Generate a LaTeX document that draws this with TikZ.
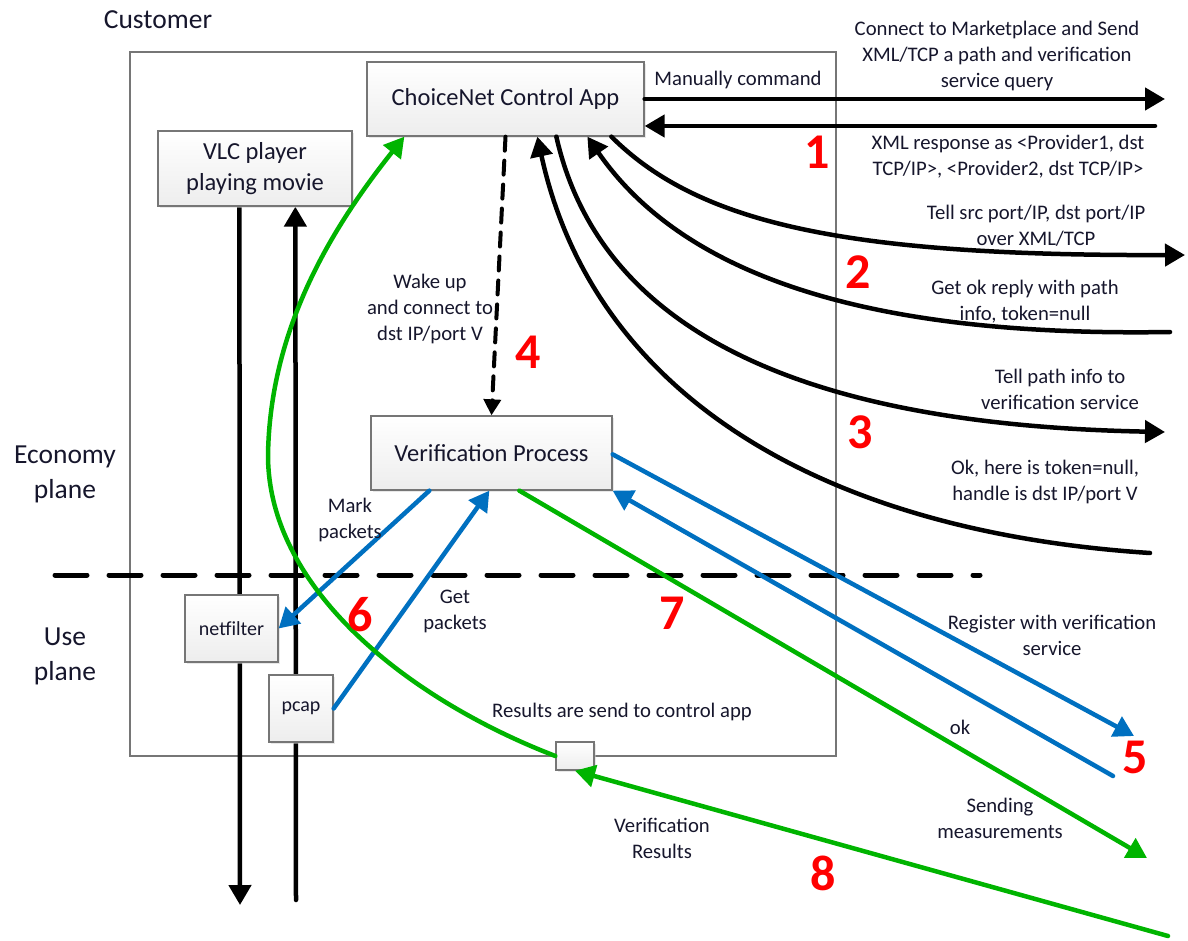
\documentclass[tikz,border=0pt]{standalone}
\usepackage{fontspec}
\setmainfont{Carlito}
\usetikzlibrary{arrows.meta,shadows,calc}
\definecolor{txt}{RGB}{22,22,44}
\definecolor{bblue}{RGB}{0,112,192}
\definecolor{ggreen}{RGB}{0,180,0}
\definecolor{frame}{RGB}{118,118,118}
\pgfdeclarelayer{back}
\pgfsetlayers{back,main}
\begin{document}
\begin{tikzpicture}[x=1pt,y=-1pt,
  box/.style={draw=frame, line width=1.3pt, top color=white, bottom color=gray!14,
    drop shadow={shadow xshift=2pt,shadow yshift=-2pt,fill=gray!35},
    inner sep=0pt, text=txt, font=\fontsize{24.5}{31}\selectfont, align=center},
  smallbox/.style={box, font=\fontsize{20}{24}\selectfont},
  lbl/.style={text=txt, font=\fontsize{20.7}{26}\selectfont, align=center, inner sep=0pt},
  side/.style={text=txt, font=\fontsize{27.5}{35}\selectfont, align=center, inner sep=0pt},
  num/.style={text=red, font=\fontsize{50}{50}\selectfont\bfseries, inner sep=0pt},
  blk/.style={draw=black, line width=4.5pt, line cap=round},
  blu/.style={draw=bblue, line width=4.5pt, line cap=round},
  grn/.style={draw=ggreen, line width=4.5pt, line cap=round},
  tip/.style={-{Triangle[length=20pt,width=22pt]}}]
\useasboundingbox (0,0) rectangle (1188,941);

% customer frame
\begin{pgfonlayer}{back}
\node[draw=frame, line width=1.5pt, minimum width=706pt, minimum height=704pt, inner sep=0pt] (cust) at (483,404) {};
\end{pgfonlayer}

% boxes
\node[box, minimum width=277pt, minimum height=74pt] (app) at (505.5,99) {ChoiceNet Control App};
\node[box, minimum width=194pt, minimum height=75pt] (vlc) at (255,168.5) {VLC player\\playing movie};
\node[box, minimum width=241pt, minimum height=74pt] (vp) at (491.5,453) {Verification Process};
\node[smallbox, minimum width=93pt, minimum height=67pt] (nf) at (231.5,628.5) {netfilter};
\node[smallbox, minimum width=64pt, minimum height=67pt] (pcap) at (301,708.5) {pcap};
\node[box, minimum width=38pt, minimum height=28pt] (sb) at (575,756) {};

% free ends
\coordinate (vdown) at (240,905);
\coordinate (vup) at (296,900);
\coordinate (q1out) at (1165,99);
\coordinate (q1in) at (1155,126);
\coordinate (q2out) at (1185,255);
\coordinate (q2in) at (1170,332);
\coordinate (q3out) at (1165,432);
\coordinate (q3in) at (1150,553);
\coordinate (regout) at (1134,736);
\coordinate (regin) at (1113,776);
\coordinate (measout) at (1147,858);
\coordinate (resin) at (1168,936);

% media stream through the filters
\begin{pgfonlayer}{back}
\draw[blk, tip] ([xshift=82pt]vlc.south west) -- (vdown);
\draw[blk, tip] (vup) -- ([xshift=138pt]vlc.south west);
\end{pgfonlayer}

% plane separator
\draw[line width=5pt, line cap=round, dash pattern=on 32pt off 22pt] (55,575) -- (980,575);

% marketplace exchange
\draw[blk, tip] (app.east) -- (q1out);
\draw[blk, tip] (q1in) -- ([yshift=-27pt]app.east);
\draw[blk, tip] ([xshift=245pt]app.south west) .. controls (700,225) and (850,256) .. (q2out);
\draw[blk, tip] (q2in) .. controls (930,336) and (700,300) .. ([xshift=221pt]app.south west);
\draw[blk, tip] ([xshift=190pt]app.south west) .. controls (600,330) and (800,425) .. (q3out);
\draw[blk, tip] (q3in) .. controls (800,530) and (590,380) .. ([xshift=171pt]app.south west);

% wake-up
\draw[line width=4pt, line cap=round, dash pattern=on 14pt off 10pt, -{Triangle[length=16pt,width=17pt]}] (app.south) -- (vp.north);

% verification service
\draw[blu, tip] ([yshift=-39pt]vp.north east) -- (regout);
\draw[blu, tip] (regin) -- (vp.south east);
\draw[blu, tip] ([xshift=59pt]vp.south west) -- (nf.east);
\draw[blu, tip] (pcap.east) -- ([xshift=119pt]vp.south west);

% measurements and results
\draw[grn, tip] ([xshift=149pt]vp.south west) -- (measout);
\draw[grn, tip] (resin) -- (sb.south);
\draw[grn, tip] (sb.west) .. controls (410,700) and (268,590) .. (268,455)
  .. controls (270,330) and (330,230) .. ([xshift=38pt]app.south west);

% labels
\node[side] (lcust) at (158,20) {Customer};
\node[side] (leco) at (65,474) {Economy\\plane};
\node[side] (luse) at (65,656) {Use\\plane};

\node[lbl] (t1) at (738,80) {Manually command};
\node[lbl] (t2) at (997,56) {Connect to Marketplace and Send\\XML/TCP a path and verification\\service query};
\node[lbl] (t3) at (1008,157) {XML response as <Provider1, dst\\TCP/IP>, <Provider2, dst TCP/IP>};
\node[lbl] (t4) at (1036,226) {Tell src port/IP, dst port/IP\\over XML/TCP};
\node[lbl] (t5) at (1025,302) {Get ok reply with path\\info, token=null};
\node[lbl] (t6) at (1060,389) {Tell path info to\\verification service};
\node[lbl] (t7) at (1045,482) {Ok, here is token=null,\\handle is dst IP/port V};
\node[lbl] (t8) at (430,309) {Wake up\\and connect to\\dst IP/port V};
\node[lbl] (t9) at (350,520) {Mark\\packets};
\node[lbl] (t10) at (455,611) {Get\\packets};
\node[lbl] (t11) at (1052,635) {Register with verification\\service};
\node[lbl] (t12) at (960,727) {ok};
\node[lbl] (t13) at (1000,818) {Sending\\measurements};
\node[lbl] (t14) at (662,838) {Verification\\Results};
\node[lbl] (t15) at (622,712) {Results are send to control app};

\node[num] (n1) at (817,152) {1};
\node[num] (n2) at (858,272) {2};
\node[num] (n3) at (860,432) {3};
\node[num] (n4) at (528,352) {4};
\node[num] (n5) at (1135,757) {5};
\node[num] (n6) at (360,615) {6};
\node[num] (n7) at (672,613) {7};
\node[num] (n8) at (823,873) {8};
\end{tikzpicture}
\end{document}
